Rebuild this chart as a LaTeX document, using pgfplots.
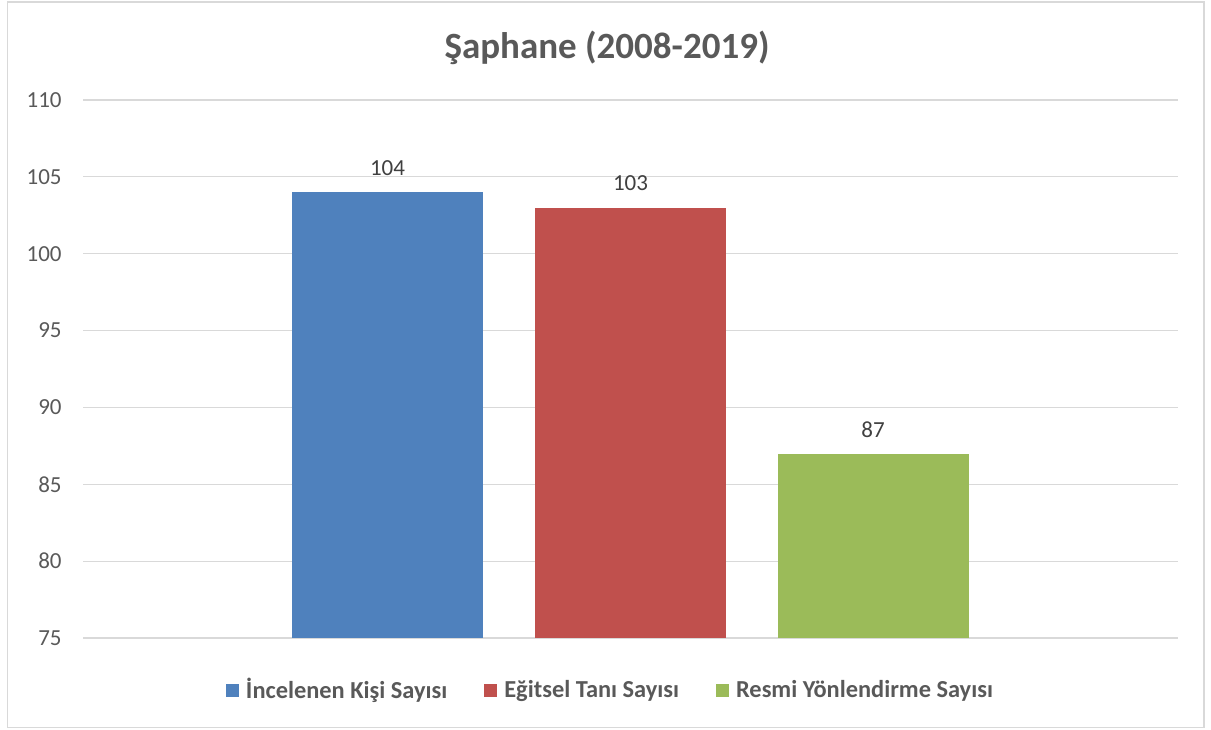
\documentclass[border=0pt]{standalone}
\usepackage{pgfplots}
\pgfplotsset{compat=1.18}
\usepackage{fontspec}
\setmainfont{Carlito}
\definecolor{cblue}{HTML}{4F81BD}
\definecolor{cred}{HTML}{C0504D}
\definecolor{cgreen}{HTML}{9BBB59}
\definecolor{txt}{HTML}{595959}
\definecolor{lbl}{HTML}{404040}
\definecolor{gridc}{HTML}{D9D9D9}
\begin{document}
\begin{tikzpicture}
\path[use as bounding box] (0pt,0pt) rectangle (605.5pt,364.5pt);
\draw[gridc, line width=0.6pt] (3.8pt,0.8pt) rectangle (602pt,363.5pt);
\node[font=\fontsize{18.5}{22}\selectfont\bfseries, text=txt] at (303.5pt,340.5pt) {Şaphane (2008-2019)};
\begin{axis}[
  at={(41.5pt,45.5pt)}, anchor=south west,
  scale only axis, width=547.5pt, height=269pt,
  ybar, bar width=95.5pt,
  xmin=-1, xmax=1, xtick=\empty,
  ymin=75, ymax=110, ytick={75,80,...,110},
  axis line style={draw=none},
  major tick length=0pt,
  ymajorgrids, major grid style={gridc, line width=0.6pt},
  /pgf/number format/assume math mode=true,
  yticklabel style={font=\fontsize{11.5}{13}\selectfont, text=txt, anchor=east, inner sep=0pt, xshift=-10.5pt},
  nodes near coords,
  every node near coord/.append style={font=\fontsize{11.5}{13}\selectfont, text=lbl, anchor=center, yshift=12pt},
  legend columns=3,
  legend style={draw=none, fill=none, at={(0.484,-0.0967)}, anchor=center,
    font=\fontsize{12.2}{14}\selectfont\bfseries, text=txt,
    column sep=0pt,
    /tikz/every even column/.append style={column sep=15pt},
    nodes={inner sep=3.5pt}},
  legend image code/.code={\fill[#1] (0pt,-3.25pt) rectangle (6.5pt,3.25pt);},
]
\addplot[fill=cblue, draw=none, bar shift=-121.5pt] coordinates {(0,104)};
\addplot[fill=cred, draw=none, bar shift=0pt] coordinates {(0,103)};
\addplot[fill=cgreen, draw=none, bar shift=121.25pt] coordinates {(0,87)};
\legend{İncelenen Kişi Sayısı, Eğitsel Tanı Sayısı, Resmi Yönlendirme Sayısı}
\end{axis}
\end{tikzpicture}
\end{document}
